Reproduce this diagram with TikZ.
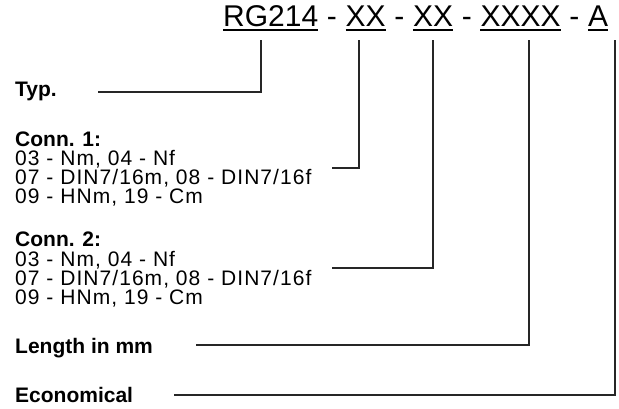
\documentclass[tikz,border=0pt]{standalone}
\usepackage{fontspec}
\setmainfont{Liberation Sans}
\begin{document}
\begin{tikzpicture}[x=1pt,y=-1pt,
  title/.style={font=\fontsize{30}{30}\selectfont, inner sep=0pt, anchor=base west},
  lab/.style={font=\fontsize{21}{21}\selectfont\bfseries, inner sep=0pt, anchor=base west, text height=15pt, text depth=3.5pt},
  opt/.style={font=\fontsize{21}{19}\selectfont\addfontfeature{LetterSpace=5}, inner sep=0pt, anchor=base west, text height=15pt, text depth=3.5pt},
  uline/.style={line width=1.4pt},
  conn/.style={line width=1.2pt, draw=black!85}]
\useasboundingbox (0,0) rectangle (619,409);
% title
\node[title] (rg) at (223,27) {RG214};
\node[title] (d1) at (rg.base east) {\ -\ \null};
\node[title] (xa) at (d1.base east) {XX};
\node[title] (d2) at (xa.base east) {\ -\ \null};
\node[title] (xb) at (d2.base east) {XX};
\node[title] (d3) at (xb.base east) {\ -\ \null};
\node[title] (xc) at (d3.base east) {XXXX};
\node[title] (d4) at (xc.base east) {\ -\ \null};
\node[title] (aa) at (d4.base east) {A};
\foreach \n in {rg,xa,xb,xc,aa}{
  \draw[uline] ([yshift=-3pt]\n.base west) -- ([yshift=-3pt]\n.base east);
}
% labels
\node[lab] (typ) at (15,97) {Typ.};
\node[lab] (c1) at (15,147) {Conn. 1:};
\node[opt] (c1a) at (15,166) {03 - Nm, 04 - Nf};
\node[opt] (c1b) at (15,185) {07 - DIN7/16m, 08 - DIN7/16f};
\node[opt] (c1c) at (15,204) {09 - HNm, 19 - Cm};
\node[lab] (c2) at (15,247) {Conn. 2:};
\node[opt] (c2a) at (15,266) {03 - Nm, 04 - Nf};
\node[opt] (c2b) at (15,285) {07 - DIN7/16m, 08 - DIN7/16f};
\node[opt] (c2c) at (15,304) {09 - HNm, 19 - Cm};
\node[lab] (len) at (15,353) {Length in mm};
\node[lab] (eco) at (15,402) {Economical};
% connector ends
\coordinate (ta) at (261,40);
\coordinate (tb) at (359,40);
\coordinate (tc) at (433,40);
\coordinate (td) at (529,40);
\coordinate (te) at (615,40);
\coordinate (sa) at (98,92);
\coordinate (sb) at (332,168);
\coordinate (sc) at (332,268);
\coordinate (sd) at (196,345);
\coordinate (se) at (174,395);
\draw[conn] (sa) -| (ta);
\draw[conn] (sb) -| (tb);
\draw[conn] (sc) -| (tc);
\draw[conn] (sd) -| (td);
\draw[conn] (se) -| (te);
\end{tikzpicture}
\end{document}
